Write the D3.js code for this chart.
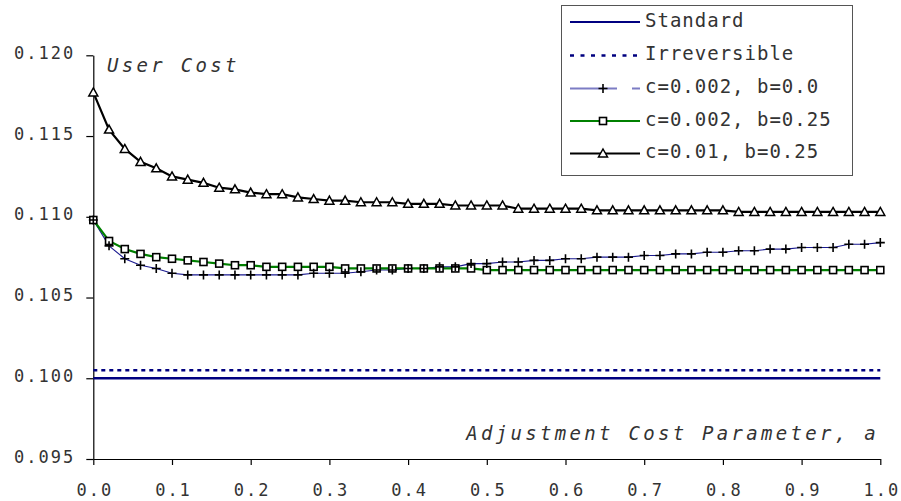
<!DOCTYPE html>
<html>
<head>
<meta charset="utf-8">
<script src="https://cdn.jsdelivr.net/npm/d3@7"></script>
<style>
  body { margin: 0; background: #fff; }
  svg { display: block; font-family: "DejaVu Sans Mono", monospace; }
</style>
</head>
<body>
<div id="svg-container"></div>
<script>
////////////////////////////////////////////////////////////////////
////////////////////////////  Data  ////////////////////////////////
const aValues = [0.00, 0.02, 0.04, 0.06, 0.08, 0.10, 0.12, 0.14, 0.16, 0.18,
  0.20, 0.22, 0.24, 0.26, 0.28, 0.30, 0.32, 0.34, 0.36, 0.38,
  0.40, 0.42, 0.44, 0.46, 0.48, 0.50, 0.52, 0.54, 0.56, 0.58,
  0.60, 0.62, 0.64, 0.66, 0.68, 0.70, 0.72, 0.74, 0.76, 0.78,
  0.80, 0.82, 0.84, 0.86, 0.88, 0.90, 0.92, 0.94, 0.96, 0.98, 1.00];

const standardCost = 0.1000;
const irreversibleCost = 0.1005;

// c=0.002, b=0.0
const costC002B0 = [0.1098, 0.1082, 0.1074, 0.1070, 0.1068, 0.1065, 0.1064, 0.1064, 0.1064, 0.1064,
  0.1064, 0.1064, 0.1064, 0.1064, 0.1065, 0.1065, 0.1065, 0.1066, 0.1067, 0.1067,
  0.1068, 0.1068, 0.1069, 0.1069, 0.1071, 0.1071, 0.1072, 0.1072, 0.1073, 0.1073,
  0.1074, 0.1074, 0.1075, 0.1075, 0.1075, 0.1076, 0.1076, 0.1077, 0.1077, 0.1078,
  0.1078, 0.1079, 0.1079, 0.1080, 0.1080, 0.1081, 0.1081, 0.1081, 0.1083, 0.1083, 0.1084];

// c=0.002, b=0.25
const costC002B25 = [0.1098, 0.1085, 0.1080, 0.1077, 0.1075, 0.1074, 0.1073, 0.1072, 0.1071, 0.1070,
  0.1070, 0.1069, 0.1069, 0.1069, 0.1069, 0.1069, 0.1068, 0.1068, 0.1068, 0.1068,
  0.1068, 0.1068, 0.1068, 0.1068, 0.1068, 0.1067, 0.1067, 0.1067, 0.1067, 0.1067,
  0.1067, 0.1067, 0.1067, 0.1067, 0.1067, 0.1067, 0.1067, 0.1067, 0.1067, 0.1067,
  0.1067, 0.1067, 0.1067, 0.1067, 0.1067, 0.1067, 0.1067, 0.1067, 0.1067, 0.1067, 0.1067];

// c=0.01, b=0.25
const costC01B25 = [0.1177, 0.1154, 0.1142, 0.1134, 0.1130, 0.1125, 0.1123, 0.1121, 0.1118, 0.1117,
  0.1115, 0.1114, 0.1114, 0.1112, 0.1111, 0.1110, 0.1110, 0.1109, 0.1109, 0.1109,
  0.1108, 0.1108, 0.1108, 0.1107, 0.1107, 0.1107, 0.1107, 0.1105, 0.1105, 0.1105,
  0.1105, 0.1105, 0.1104, 0.1104, 0.1104, 0.1104, 0.1104, 0.1104, 0.1104, 0.1104,
  0.1104, 0.1103, 0.1103, 0.1103, 0.1103, 0.1103, 0.1103, 0.1103, 0.1103, 0.1103, 0.1103];

const xTicks = [0, 0.1, 0.2, 0.3, 0.4, 0.5, 0.6, 0.7, 0.8, 0.9, 1.0];
const yTicks = [0.095, 0.100, 0.105, 0.110, 0.115, 0.120];

const legendLabels = ["Standard", "Irreversible", "c=0.002, b=0.0", "c=0.002, b=0.25", "c=0.01, b=0.25"];

////////////////////////////////////////////////////////////////////
////////////////////////////  Init  ////////////////////////////////
const width = 901;
const height = 501;
const margin = { top: 55.3, right: 20.7, bottom: 42, left: 93.3 };
const textColor = "#333";
const fontFam = "DejaVu Sans Mono, monospace";

const svg = d3.select("#svg-container").append("svg")
  .attr("width", width)
  .attr("height", height);

const xScale = d3.scaleLinear()
  .domain([0, 1])
  .range([margin.left, width - margin.right]);
const yScale = d3.scaleLinear()
  .domain([0.095, 0.120])
  .range([height - margin.bottom, margin.top]);

// axes
const yAxis = d3.axisLeft(yScale)
  .tickValues(yTicks)
  .tickFormat(d3.format(".3f"))
  .tickSize(7)
  .tickSizeOuter(0)
  .tickPadding(11);

const xAxis = d3.axisBottom(xScale)
  .tickValues(xTicks)
  .tickFormat(d3.format(".1f"))
  .tickSize(6)
  .tickSizeOuter(0);

const gy = svg.append("g")
  .attr("transform", `translate(${margin.left},0)`)
  .call(yAxis);
gy.selectAll("text")
  .attr("dy", 3)
  .style("font-size", "17px")
  .style("font-family", fontFam)
  .style("letter-spacing", "2px")
  .attr("fill", textColor);

const gx = svg.append("g")
  .attr("transform", `translate(0,${height - margin.bottom})`)
  .call(xAxis);
gx.selectAll("text")
  .attr("y", 37)
  .attr("dy", 0)
  .attr("dx", 1)
  .style("font-size", "17px")
  .style("font-family", fontFam)
  .style("letter-spacing", "2px")
  .attr("fill", textColor);

svg.selectAll(".domain, .tick line").attr("stroke", "#000").attr("stroke-width", 1.2);

// axis titles
svg.append("text")
  .attr("x", 107)
  .attr("y", 72)
  .style("font-size", "19px")
  .style("font-style", "italic")
  .style("letter-spacing", "3.3px")
  .attr("fill", textColor)
  .text("User Cost");

svg.append("text")
  .attr("x", 879)
  .attr("y", 440)
  .attr("text-anchor", "end")
  .style("font-size", "19px")
  .style("font-style", "italic")
  .style("letter-spacing", "3.3px")
  .attr("fill", textColor)
  .text("Adjustment Cost Parameter, a");

////////////////////////////////////////////////////////////////////
////////////////////////////  Lines  ///////////////////////////////
// flat reference lines
svg.append("line")
  .attr("x1", xScale(0)).attr("x2", xScale(1))
  .attr("y1", yScale(standardCost)).attr("y2", yScale(standardCost))
  .attr("stroke", "#000080")
  .attr("stroke-width", 2.5);

svg.append("line")
  .attr("x1", xScale(0)).attr("x2", xScale(1))
  .attr("y1", yScale(irreversibleCost)).attr("y2", yScale(irreversibleCost))
  .attr("stroke", "#000080")
  .attr("stroke-width", 2.5)
  .attr("stroke-dasharray", "4,4");

const line = d3.line()
  .x((d, i) => xScale(aValues[i]))
  .y((d) => yScale(d));

svg.append("path")
  .datum(costC002B0)
  .attr("d", line)
  .attr("fill", "none")
  .attr("stroke", "#1a1a90")
  .attr("stroke-width", 1.1);

svg.append("path")
  .datum(costC002B25)
  .attr("d", line)
  .attr("fill", "none")
  .attr("stroke", "#008000")
  .attr("stroke-width", 2.2);

svg.append("path")
  .datum(costC01B25)
  .attr("d", line)
  .attr("fill", "none")
  .attr("stroke", "#000")
  .attr("stroke-width", 2.2);

// markers
const sq = 7;
const triPath = "M0,-4.5L4.5,3.5L-4.5,3.5Z";
const crossPath = "M-4.5,0H4.5M0,-4.5V4.5";

function drawSquares(g, pts) {
  g.selectAll(null).data(pts).join("rect")
    .attr("x", (d) => d[0] - sq / 2)
    .attr("y", (d) => d[1] - sq / 2)
    .attr("width", sq)
    .attr("height", sq)
    .attr("fill", "#fff")
    .attr("stroke", "#000")
    .attr("stroke-width", 1.6);
}
function drawCrosses(g, pts) {
  g.selectAll(null).data(pts).join("path")
    .attr("transform", (d) => `translate(${d[0]},${d[1]})`)
    .attr("d", crossPath)
    .attr("fill", "none")
    .attr("stroke", "#000")
    .attr("stroke-width", 1.6);
}
function drawTriangles(g, pts) {
  g.selectAll(null).data(pts).join("path")
    .attr("transform", (d) => `translate(${d[0]},${d[1]})`)
    .attr("d", triPath)
    .attr("fill", "#fff")
    .attr("stroke", "#000")
    .attr("stroke-width", 1.5);
}

const marks = svg.append("g");
drawSquares(marks.append("g"), costC002B25.map((d, i) => [xScale(aValues[i]), yScale(d)]));
drawCrosses(marks.append("g"), costC002B0.map((d, i) => [xScale(aValues[i]), yScale(d)]));
drawTriangles(marks.append("g"), costC01B25.map((d, i) => [xScale(aValues[i]), yScale(d)]));

////////////////////////////////////////////////////////////////////
////////////////////////////  Legend  //////////////////////////////
const legend = svg.append("g");
legend.append("rect")
  .attr("x", 561.5).attr("y", 5.5)
  .attr("width", 291).attr("height", 170)
  .attr("fill", "#fff")
  .attr("stroke", "#555")
  .attr("stroke-width", 1);

const rowBase = [26.5, 60, 93, 125.5, 158];
const lx0 = 570, lx1 = 640, lmid = 603;

legendLabels.forEach((label, i) => {
  const ly = rowBase[i] - 4.5;
  const ln = legend.append("line")
    .attr("x1", lx0).attr("x2", lx1)
    .attr("y1", ly).attr("y2", ly);
  if (i === 0) ln.attr("stroke", "#000080").attr("stroke-width", 2);
  if (i === 1) ln.attr("stroke", "#000080").attr("stroke-width", 2.5).attr("stroke-dasharray", "4,6.5");
  if (i === 2) ln.attr("stroke", "#7c7cc4").attr("stroke-width", 2).attr("stroke-dasharray", "47,15,8");
  if (i === 3) ln.attr("stroke", "#008000").attr("stroke-width", 2);
  if (i === 4) ln.attr("stroke", "#000").attr("stroke-width", 2);

  if (i === 2) drawCrosses(legend.append("g"), [[lmid, ly]]);
  if (i === 3) drawSquares(legend.append("g"), [[lmid, ly]]);
  if (i === 4) drawTriangles(legend.append("g"), [[lmid, ly]]);

  legend.append("text")
    .attr("x", 645)
    .attr("y", rowBase[i])
    .style("font-size", "19px")
    .style("letter-spacing", "1px")
    .attr("fill", textColor)
    .text(label);
});
</script>
</body>
</html>
